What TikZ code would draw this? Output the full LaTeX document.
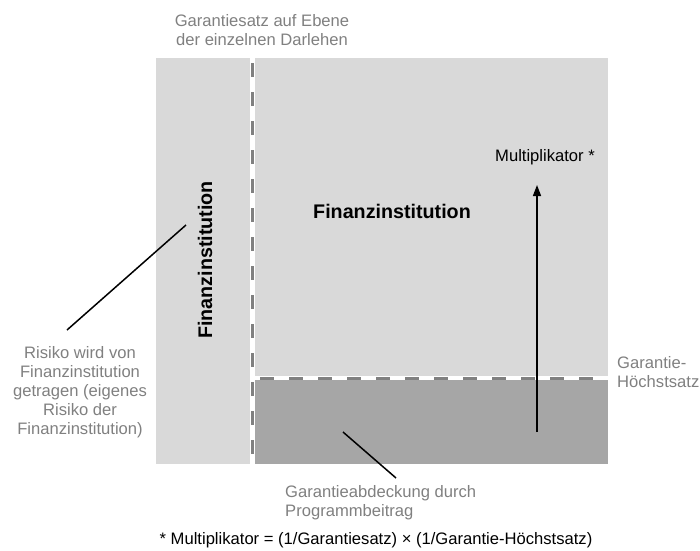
\documentclass[tikz,border=0pt]{standalone}
\usepackage{fontspec}
\setmainfont{Liberation Sans}
\usetikzlibrary{arrows.meta}

\begin{document}
\begin{tikzpicture}[x=1pt,y=-1pt]

% Define colors for styling
\definecolor{lightArea}{RGB}{217,217,217} % Light gray for lender share
\definecolor{darkArea}{RGB}{166,166,166}  % Darker gray for programme cover
\definecolor{dashColor}{RGB}{128,128,128} % Gray for the rate lines
\definecolor{noteColor}{RGB}{128,128,128} % Gray for the notes

\tikzset{
  area/.style={draw=none, inner sep=0pt}, % Plain filled blocks
  rateline/.style={draw=dashColor, line width=3pt, dash pattern=on 14pt off 15pt, dash phase=-5pt}, % Dashed rate lines
  annot/.style={text=noteColor, font=\fontsize{16.6}{19}\selectfont, inner sep=2pt}, % Gray notes
  pointer/.style={draw=black, line width=1.5pt}, % Lines to the notes
  title/.style={font=\fontsize{19.7}{22}\selectfont\bfseries} % Bold labels
}

% Fix the margins
\useasboundingbox (0,0) rectangle (700,550);

% Blocks
\fill[lightArea] (156,58) rectangle (250,464); % Left strip
\fill[lightArea] (255,58) rectangle (608,376); % Upper block
\fill[darkArea] (255,380) rectangle (608,464); % Lower block

% Rate lines
\draw[rateline] (252.5,58) -- (252.5,464); % Guarantee rate
\draw[rateline] (255,378) -- (608,378); % Maximum rate

% Labels inside the blocks
\node[title, rotate=90] (stripLabel) at (205,260) {Finanzinstitution};
\node[title] (mainLabel) at (392,211) {Finanzinstitution};

% Multiplier arrow
\coordinate (arrowBase) at (537,432);
\coordinate (arrowTip) at (537,185);
\draw[line width=1.5pt, -{Triangle[width=8pt,length=11pt]}] (arrowBase) -- (arrowTip);
\node[font=\fontsize{16.6}{19}\selectfont] (multLabel) at (545,157) {Multiplikator *};

% Notes
\node[annot, align=center] (topNote) at (262,30) {Garantiesatz auf Ebene\\der einzelnen Darlehen};
\node[annot, align=center] (riskNote) at (80,392) {Risiko wird von\\Finanzinstitution\\getragen (eigenes\\Risiko der\\Finanzinstitution)};
\node[annot, align=left, anchor=west] (capNote) at (615,372) {Garantie-\\Höchstsatz};
\node[annot, align=left, anchor=north west] (coverNote) at (283,483) {Garantieabdeckung durch\\Programmbeitrag};
\node[font=\fontsize{16.6}{19}\selectfont] (footNote) at (376,540) {* Multiplikator = (1/Garantiesatz) × (1/Garantie-Höchstsatz)};

% Pointer lines
\coordinate (riskFrom) at (186,225);
\coordinate (riskTo) at (67,330);
\coordinate (coverFrom) at (343,432);
\coordinate (coverTo) at (396,478);
\draw[pointer] (riskFrom) -- (riskTo);
\draw[pointer] (coverFrom) -- (coverTo);

\end{tikzpicture}
\end{document}
